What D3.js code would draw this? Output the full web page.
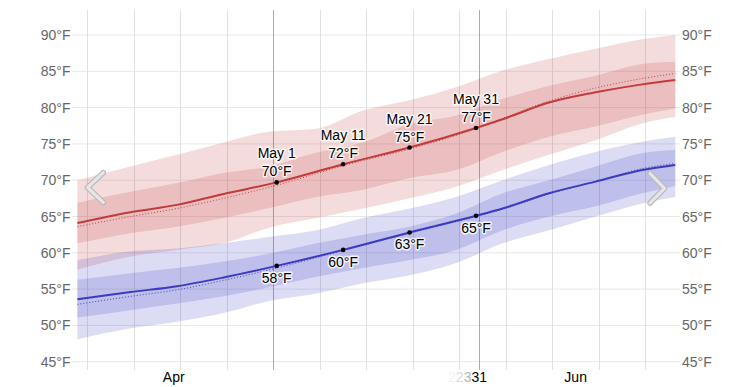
<!DOCTYPE html>
<html>
<head>
<meta charset="utf-8">
<script src="https://cdn.jsdelivr.net/npm/d3@7"></script>
<style>
  body { margin: 0; background: #fff; }
  svg { font-family: "Liberation Sans", Arial, sans-serif; }
</style>
</head>
<body>
<svg width="753" height="387"></svg>
<script>
// band sample dates (weekly) and percentile edges
var bandDays = ["04-01","04-09","04-16","04-23","04-30","05-07","05-14","05-21","05-28","06-04","06-11","06-18","06-25","06-30"];
var hiP90 = [70.0, 71.9, 73.5, 75.2, 76.7, 77.1, 79.6, 81.0, 82.8, 85.1, 86.7, 88.1, 89.4, 90.0];
var hiP75 = [66.9, 68.4, 69.6, 71.0, 71.9, 73.8, 75.2, 77.7, 78.9, 81.2, 83.0, 84.4, 86.0, 86.3];
var hiP25 = [61.3, 62.7, 63.6, 64.8, 66.2, 67.7, 68.7, 70.3, 71.4, 73.9, 76.0, 77.4, 79.0, 79.9];
var hiP10 = [57.7, 59.5, 60.4, 61.3, 63.5, 64.8, 66.1, 67.5, 69.1, 71.4, 73.5, 75.5, 77.8, 78.7];
var loP90 = [59.0, 60.2, 60.6, 61.3, 62.2, 63.1, 64.8, 66.1, 67.7, 70.0, 72.1, 73.9, 75.3, 76.0];
var loP75 = [56.3, 57.2, 57.9, 58.8, 59.9, 61.3, 62.5, 63.6, 65.4, 68.2, 70.0, 71.9, 73.7, 74.2];
var loP25 = [51.1, 52.1, 53.0, 54.0, 55.3, 56.7, 57.9, 59.0, 60.4, 63.1, 65.0, 66.4, 68.2, 69.2];
var loP10 = [48.1, 49.6, 50.5, 51.7, 53.4, 54.4, 55.8, 56.9, 58.6, 61.3, 63.1, 65.0, 66.8, 67.7];

// median lines and the dotted comparison lines
var lineDays = ["04-01","04-09","04-16","04-23","05-01","05-11","05-21","05-31","06-04","06-11","06-18","06-25","06-30"];
var hiMed = [64.1, 65.6, 66.6, 68.1, 69.7, 72.2, 74.5, 77.2, 78.4, 80.7, 82.1, 83.2, 83.8];
var hiDot = [63.6, 65.0, 66.1, 67.5, 69.3, 72.0, 74.3, 77.1, 78.5, 80.9, 82.7, 84.0, 84.7];
var loMed = [53.6, 54.6, 55.4, 56.6, 58.2, 60.4, 62.8, 65.1, 66.1, 68.2, 69.8, 71.4, 72.1];
var loDot = [52.9, 54.0, 54.9, 56.2, 57.9, 60.3, 62.7, 65.0, 66.0, 68.1, 69.8, 71.6, 72.3];

var labelDays = ["05-01","05-11","05-21","05-31"];
var labelNames = ["May 1","May 11","May 21","May 31"];
var yTicks = [45, 50, 55, 60, 65, 70, 75, 80, 85, 90];
var monthLabels = ["Apr", "Jun"];
var monthMids = ["04-16T00", "06-15T12"];

var svg = d3.select("svg");
var W = 753, H = 387;
var parse = function(s){ return new Date("2023-" + (s.length > 5 ? s + ":00" : s + "T12:00")); };

var x = d3.scaleTime()
          .domain([parse("04-01"), parse("06-30")])
          .range([77.4, 675.3]);
var y = d3.scaleLinear()
          .domain([45, 90])
          .range([361.7, 35]);

// grid
var grid = svg.append("g");
grid.selectAll(".hg").data(yTicks).enter().append("line")
    .attr("x1", 72).attr("x2", 680)
    .attr("y1", function(d){ return y(d); }).attr("y2", function(d){ return y(d); })
    .attr("stroke", "#e8e8e8").attr("stroke-width", 1);

var weekLines = d3.timeDay.every(7).range(new Date("2023-04-03T00:00"), new Date("2023-07-01"));
weekLines = d3.range(0, 13).map(function(i){ return d3.timeDay.offset(new Date("2023-04-03T00:00"), i*7); });
grid.selectAll(".vg").data(weekLines).enter().append("line")
    .attr("x1", function(d){ return Math.round(x(d)) + 0.5; }).attr("x2", function(d){ return Math.round(x(d)) + 0.5; })
    .attr("y1", 10).attr("y2", 370)
    .attr("stroke", "#e0e0e0").attr("stroke-width", 1);

var monthLines = [new Date("2023-05-01T00:00"), new Date("2023-06-01T00:00")];
grid.selectAll(".mg").data(monthLines).enter().append("line")
    .attr("x1", function(d){ return Math.round(x(d)) + 0.5; }).attr("x2", function(d){ return Math.round(x(d)) + 0.5; })
    .attr("y1", 10).attr("y2", 370)
    .attr("stroke", "#aaa").attr("stroke-width", 1);

// bands
function band(days, lo, hi){
  var pts = days.map(function(d, i){ return {t: parse(d), lo: lo[i], hi: hi[i]}; });
  return d3.area()
           .x(function(d){ return x(d.t); })
           .y0(function(d){ return y(d.lo); })
           .y1(function(d){ return y(d.hi); })
           .curve(d3.curveMonotoneX)(pts);
}
var red = "rgb(192,50,50)", blue = "rgb(50,50,192)";
svg.append("path").attr("d", band(bandDays, hiP10, hiP90)).attr("fill", red).attr("fill-opacity", 0.17);
svg.append("path").attr("d", band(bandDays, hiP25, hiP75)).attr("fill", red).attr("fill-opacity", 0.17);
svg.append("path").attr("d", band(bandDays, loP10, loP90)).attr("fill", blue).attr("fill-opacity", 0.17);
svg.append("path").attr("d", band(bandDays, loP25, loP75)).attr("fill", blue).attr("fill-opacity", 0.17);

// lines
function line(days, vals){
  var pts = days.map(function(d, i){ return [x(parse(d)), y(vals[i])]; });
  return d3.line().curve(d3.curveMonotoneX)(pts);
}
svg.append("path").attr("d", line(lineDays, hiDot)).attr("fill", "none")
   .attr("stroke", "#c04545").attr("stroke-width", 1).attr("stroke-dasharray", "1,2");
svg.append("path").attr("d", line(lineDays, loDot)).attr("fill", "none")
   .attr("stroke", "#4545c0").attr("stroke-width", 1).attr("stroke-dasharray", "1,2");
svg.append("path").attr("d", line(lineDays, hiMed)).attr("fill", "none")
   .attr("stroke", "#c23b3b").attr("stroke-width", 2);
svg.append("path").attr("d", line(lineDays, loMed)).attr("fill", "none")
   .attr("stroke", "#3b3bc2").attr("stroke-width", 2);

// labelled points
var labs = labelDays.map(function(d, i){
  var k = lineDays.indexOf(d);
  return {t: parse(d), name: labelNames[i], hi: hiMed[k], lo: loMed[k]};
});
var pg = svg.append("g").attr("font-size", 14).attr("text-anchor", "middle");
labs.forEach(function(d){
  var px = x(d.t);
  pg.append("circle").attr("cx", px).attr("cy", y(d.hi)).attr("r", 2.3).attr("fill", "#000");
  pg.append("circle").attr("cx", px).attr("cy", y(d.lo)).attr("r", 2.3).attr("fill", "#000");
  [[d.name, y(d.hi) - 24], [Math.round(d.hi) + "°F", y(d.hi) - 6], [Math.round(d.lo) + "°F", y(d.lo) + 17]].forEach(function(t){
    pg.append("text").attr("x", px).attr("y", t[1]).text(t[0])
      .attr("fill", "#000").attr("stroke", "rgba(255,255,255,0.8)").attr("stroke-width", 3)
      .attr("paint-order", "stroke").attr("stroke-linejoin", "round");
  });
});

// y axis labels, both sides
var ya = svg.append("g").attr("font-size", 14).attr("fill", "#666");
ya.selectAll(".yl").data(yTicks).enter().append("text")
  .attr("x", 70.5).attr("y", function(d){ return y(d) + 5; })
  .attr("text-anchor", "end").text(function(d){ return d + "°F"; });
ya.selectAll(".yr").data(yTicks).enter().append("text")
  .attr("x", 682).attr("y", function(d){ return y(d) + 5; })
  .attr("text-anchor", "start").text(function(d){ return d + "°F"; });

// month labels
svg.selectAll(".ml").data(monthLabels).enter().append("text")
   .attr("x", function(d, i){ return x(parse(monthMids[i])); }).attr("y", 382)
   .attr("text-anchor", "middle").attr("font-size", 14).attr("fill", "#000")
   .text(function(d){ return d; });

// day label caught mid-animation
var dl = svg.append("text").attr("x", 487).attr("y", 382).attr("text-anchor", "end").attr("font-size", 14);
[["2", "#f2f2f2"], ["2", "#dadada"], ["3", "#b5b5b5"], ["31", "#000"]].forEach(function(p){
  dl.append("tspan").attr("fill", p[1]).text(p[0]);
});

// navigation chevrons
function chevron(pts){
  var p = d3.line()(pts);
  svg.append("path").attr("d", p).attr("fill", "none").attr("stroke", "#b8b8b8")
     .attr("stroke-width", 5.5).attr("stroke-linecap", "round").attr("stroke-linejoin", "round");
  svg.append("path").attr("d", p).attr("fill", "none").attr("stroke", "#e6e6e6")
     .attr("stroke-width", 3.2).attr("stroke-linecap", "round").attr("stroke-linejoin", "round");
}
chevron([[103.3, 172.7], [87.5, 187.5], [103.3, 202.5]]);
chevron([[650, 173.3], [664.5, 188.3], [650, 203]]);
</script>
</body>
</html>
